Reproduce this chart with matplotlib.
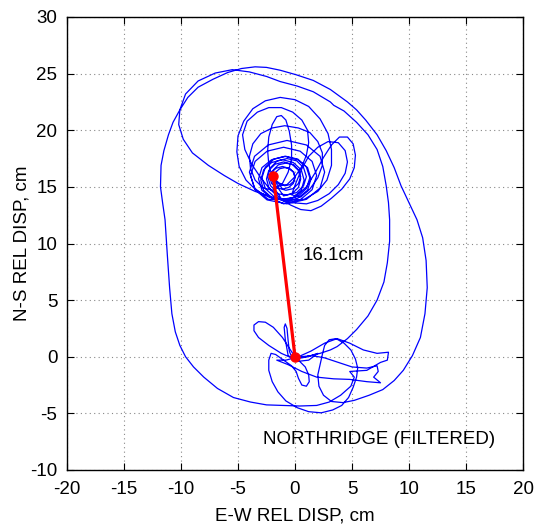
import numpy as np
import matplotlib
matplotlib.use('Agg')
import matplotlib.pyplot as plt

# ---------------- data (E-W, N-S displacement in cm) ----------------
start_cluster = [
    (0.0, 0.0), (-0.4, 0.6), (-1.1, 1.7), (-1.9, 2.6), (-2.6, 3.05), (-3.2, 3.1), (-3.6, 2.8),
    (-3.6, 2.3), (-3.2, 1.7), (-2.3, 1.0), (-1.2, 0.3), (-0.3, -0.1), (0.6, -0.1), (1.4, 0.1),
    (2.0, 0.3), (1.2, -0.3), (0.3, -0.4),
    (-0.6, 0.1), (-0.85, 1.5), (-0.95, 2.6), (-0.85, 2.9), (-0.7, 2.5), (-0.6, 1.4),
    (-0.5, 0.5), (-0.3, 0.0),
    (0.4, -0.4), (0.9, -0.9), (1.2, -1.6), (1.25, -2.2), (1.0, -2.6), (0.6, -2.5), (0.3, -1.9),
    (0.1, -1.3), (-0.3, -0.8), (-1.0, -0.3), (-1.7, 0.2), (-2.1, 0.3),
    (-2.3, -0.3), (-2.3, -1.2), (-2.0, -2.2), (-1.5, -3.1), (-0.8, -3.9), (0.2, -4.5),
    (1.2, -4.85), (2.3, -4.95), (3.3, -4.7), (4.1, -4.3), (4.7, -3.6), (5.1, -2.7), (5.4, -1.8),
    (5.5, -1.0), (5.3, -0.2), (4.9, 0.6), (4.3, 1.2), (3.6, 1.6), (3.0, 1.5), (2.6, 1.0),
    (2.4, 0.2), (2.2, -0.7),
    (2.0, -1.6), (2.1, -2.6), (2.5, -3.4), (3.2, -3.95), (4.2, -4.05),
]

outer_loop = [
    (5.2, -3.85), (6.5, -3.4), (7.7, -2.9), (8.7, -2.1), (9.5, -1.2), (10.3, 0.1), (11.0, 1.7),
    (11.4, 3.8), (11.6, 6.1), (11.5, 8.5), (11.2, 10.5), (10.7, 12.1), (10.0, 13.6), (9.3, 15.1),
    (8.7, 16.7), (8.0, 18.2), (7.2, 19.6), (6.2, 20.9), (5.4, 21.8), (4.6, 22.5), (3.1, 23.6),
    (1.6, 24.4), (0.1, 24.9), (-1.3, 25.3), (-2.5, 25.55), (-3.5, 25.6), (-4.7, 25.45),
    (-5.9, 25.1), (-7.2, 24.5), (-8.5, 23.8), (-9.4, 22.9), (-10.1, 21.8), (-10.7, 20.7),
    (-11.1, 19.6), (-11.5, 18.2), (-11.75, 16.9), (-11.8, 15.0), (-11.6, 13.5), (-11.4, 12.1),
    (-11.2, 9.0), (-11.0, 6.1), (-10.8, 3.8), (-10.5, 2.2), (-10.1, 1.0), (-9.6, 0.0),
    (-8.9, -0.9), (-8.0, -1.8), (-6.8, -2.8), (-5.4, -3.6), (-3.9, -4.0), (-2.5, -4.25),
    (-1.1, -4.3), (0.4, -4.35), (1.9, -4.3), (3.0, -4.0), (4.0, -3.4), (4.9, -2.6),
    (5.2, -1.8), (4.8, -1.3),
]

wing_cluster = [
    (6.3, -1.2), (7.5, -0.5), (8.1, -0.3), (8.2, 0.4), (7.2, 0.3), (6.0, 0.6), (4.8, 1.2),
    (3.7, 1.6), (2.6, 1.2), (1.4, 0.5), (0.3, 0.0), (-0.8, -0.3), (-1.6, -0.3),
    (-0.6, -0.7), (0.6, -1.3), (1.9, -1.8), (3.4, -1.95), (4.8, -2.0), (6.3, -2.2), (7.5, -2.3),
    (6.9, -1.8), (7.3, -1.3), (7.2, -0.8), (6.3, -1.0), (5.0, -0.9), (3.8, -0.5), (2.6, -0.1),
    (1.5, 0.1), (0.5, 0.0), (0.2, -0.1),
    (1.0, 0.0), (2.2, 0.3), (3.1, 0.6), (3.7, 0.9),
]

inner_loop = [
    (4.6, 1.6), (5.4, 2.4), (6.4, 3.6), (7.2, 5.0), (7.8, 6.6), (8.1, 8.3), (8.3, 10.2),
    (8.3, 12.1), (8.2, 13.6), (8.0, 15.1), (7.7, 16.8), (7.2, 18.3), (6.4, 19.6), (5.4, 20.7),
    (4.3, 21.7), (3.4, 22.2), (3.1, 22.5), (2.6, 22.8), (1.6, 23.4), (0.2, 23.9), (-1.3, 24.3),
    (-2.5, 24.75), (-4.0, 25.15), (-5.5, 25.35), (-7.0, 25.05), (-8.5, 24.35), (-9.6, 23.2),
    (-10.1, 21.8), (-10.2, 20.5), (-9.8, 19.2), (-9.0, 18.0), (-7.6, 16.9), (-6.2, 16.0),
    (-5.0, 15.3), (-3.5, 14.6), (-2.0, 14.1), (-0.8, 13.8),
]

center_loops = [
    # large loop around the final position
    (0.8, 13.9), (2.0, 14.6), (2.8, 15.6), (3.2, 16.9), (3.2, 18.3), (2.9, 19.7), (2.2, 21.0),
    (1.2, 22.1), (0.0, 22.7), (-1.3, 22.9), (-2.6, 22.6), (-3.7, 21.9), (-4.5, 20.8),
    (-5.0, 19.5), (-5.1, 18.1), (-4.9, 16.8), (-4.3, 15.6), (-3.4, 14.7), (-2.3, 14.1),
    (-1.1, 13.9), (0.0, 14.1),
    # right petal
    (1.0, 15.0), (1.8, 16.3), (2.5, 17.6), (3.2, 18.7), (3.9, 19.4), (4.6, 19.4), (5.1, 18.8),
    (5.3, 17.8), (5.2, 16.7), (4.8, 15.7), (4.1, 14.8), (3.2, 14.0), (2.3, 13.3), (1.4, 12.9),
    (0.5, 13.0), (-0.4, 13.4), (-1.3, 14.0), (-2.2, 14.8),
    # upper-left loop
    (-3.0, 15.8), (-3.8, 17.0), (-4.4, 18.3), (-4.6, 19.6), (-4.2, 20.8), (-3.3, 21.6),
    (-2.3, 22.0), (-1.2, 22.0), (-0.2, 21.6), (0.6, 20.9), (1.1, 20.0), (1.2, 18.9),
    (1.0, 17.8), (0.6, 16.8), (0.0, 15.9), (-0.7, 15.2),
    # narrow upward loop
    (-1.5, 15.1), (-2.0, 15.9), (-2.3, 17.0), (-2.4, 18.2), (-2.3, 19.4), (-2.0, 20.5),
    (-1.6, 21.2), (-1.2, 21.3), (-0.8, 20.9), (-0.5, 19.9), (-0.3, 18.7), (-0.3, 17.5),
    (-0.6, 16.3), (-1.1, 15.3),
    # loop reaching about 20
    (-1.9, 14.7), (-2.8, 14.9), (-3.5, 15.6), (-3.9, 16.6), (-4.0, 17.7), (-3.7, 18.8),
    (-3.0, 19.7), (-2.0, 20.2), (-0.9, 20.4), (0.3, 20.2), (1.3, 19.8), (2.0, 19.0),
    (2.4, 18.0), (2.4, 16.9), (2.0, 15.8), (1.3, 14.8), (0.5, 14.1),
    # second right loop
    (-0.3, 14.3), (0.1, 15.4), (0.6, 16.6), (1.2, 17.7), (2.0, 18.5), (2.9, 19.0), (3.8, 18.9),
    (4.4, 18.2), (4.6, 17.2), (4.4, 16.2), (3.8, 15.2), (3.0, 14.4), (2.0, 13.8), (1.0, 13.5),
    (-0.2, 13.6), (-1.4, 13.9),
    # medium loops
    (-2.35, 13.9), (-3.55, 14.9), (-4.0, 16.3), (-3.55, 17.7), (-2.35, 18.7), (-0.7, 19.1),
    (1.0, 18.7), (2.2, 17.7), (2.6, 16.3), (2.2, 14.9), (1.0, 13.9), (-0.7, 13.5),
    (-2.45, 13.85), (-3.5, 14.75), (-3.9, 16.0), (-3.5, 17.25), (-2.45, 18.15), (-1.0, 18.5),
    (0.45, 18.15), (1.5, 17.25), (1.9, 16.0), (1.5, 14.75), (0.45, 13.85), (-1.0, 13.5),
]

core_loops = [
    (-2.05, 14.0), (-2.9, 14.7), (-3.2, 15.7), (-2.9, 16.7), (-2.05, 17.4), (-0.9, 17.7),
    (0.25, 17.4), (1.1, 16.7), (1.4, 15.7), (1.1, 14.7), (0.25, 14.0), (-0.9, 13.7),
    (-1.85, 14.15), (-2.6, 14.85), (-2.9, 15.8), (-2.6, 16.75), (-1.85, 17.45), (-0.8, 17.7),
    (0.25, 17.45), (1.0, 16.75), (1.3, 15.8), (1.0, 14.85), (0.25, 14.15), (-0.8, 13.9),
    (-2.05, 14.05), (-2.75, 14.7), (-3.0, 15.6), (-2.75, 16.5), (-2.05, 17.15), (-1.1, 17.4),
    (-0.15, 17.15), (0.55, 16.5), (0.8, 15.6), (0.55, 14.7), (-0.15, 14.05), (-1.1, 13.8),
    (-1.55, 14.5), (-2.15, 15.1), (-2.4, 15.9), (-2.15, 16.7), (-1.55, 17.3), (-0.7, 17.5),
    (0.15, 17.3), (0.75, 16.7), (1.0, 15.9), (0.75, 15.1), (0.15, 14.5), (-0.7, 14.3),
    (-1.75, 14.4), (-2.3, 14.95), (-2.5, 15.7), (-2.3, 16.45), (-1.75, 17.0), (-1.0, 17.2),
    (-0.25, 17.0), (0.3, 16.45), (0.5, 15.7), (0.3, 14.95), (-0.25, 14.4), (-1.0, 14.2),
    (-1.45, 14.85), (-1.9, 15.3), (-2.1, 15.9), (-1.9, 16.5), (-1.45, 16.95), (-0.8, 17.1),
    (-0.15, 16.95), (0.3, 16.5), (0.5, 15.9), (0.3, 15.3), (-0.15, 14.85), (-0.8, 14.7),
    (-1.65, 14.95), (-2.05, 15.3), (-2.2, 15.8), (-2.05, 16.3), (-1.65, 16.65), (-1.1, 16.8),
    (-0.55, 16.65), (-0.15, 16.3), (0.0, 15.8), (-0.15, 15.3), (-0.55, 14.95), (-1.1, 14.8),
    (-1.35, 15.2), (-1.7, 15.5), (-1.8, 15.9), (-1.7, 16.3), (-1.35, 16.6), (-0.9, 16.7),
    (-0.45, 16.6), (-0.1, 16.3), (0.0, 15.9), (-0.1, 15.5), (-0.45, 15.2), (-0.9, 15.1),
    (-1.4, 15.35), (-1.7, 15.6), (-1.8, 15.9), (-1.9, 16.0),
]

# permanent offset vector (start -> end)
offset_ew = [0.0, -1.9]
offset_ns = [0.0, 16.0]
offset_label = '16.1cm'
title_label = 'NORTHRIDGE (FILTERED)'

x_ticks = [-20, -15, -10, -5, 0, 5, 10, 15, 20]
y_ticks = [-10, -5, 0, 5, 10, 15, 20, 25, 30]

# ---------------- plot ----------------
plt.rcParams['font.family'] = ['Liberation Sans', 'DejaVu Sans']
plt.rcParams['axes.unicode_minus'] = False
FS = 13.5

fig = plt.figure(figsize=(5.34, 5.28), dpi=100)
ax = fig.add_axes([67 / 534, 1 - 470 / 528, 456 / 534, 453 / 528])

segments = [start_cluster, outer_loop, wing_cluster, inner_loop, center_loops, core_loops]
path = np.array([p for seg in segments for p in seg])
ax.plot(path[:, 0], path[:, 1], color='#0000ff', lw=0.9, zorder=3,
        solid_joinstyle='round')

ax.plot(offset_ew, offset_ns, color='#ff0000', lw=2.3, marker='o', ms=6.5,
        solid_capstyle='round', zorder=5)

ax.text(0.7, 8.9, offset_label, fontsize=FS, va='center', ha='left')
ax.text(-2.8, -7.35, title_label, fontsize=FS, va='center', ha='left')

ax.set_xlim(-20, 20)
ax.set_ylim(-10, 30)
ax.set_xticks(x_ticks)
ax.set_yticks(y_ticks)
ax.grid(True, linestyle=(0, (1, 3)), color='#888888', lw=0.8)
ax.set_axisbelow(True)
ax.tick_params(direction='in', top=True, right=True, length=5, width=0.8,
               labelsize=FS)
ax.tick_params(axis='x', pad=8)
ax.tick_params(axis='y', pad=7)
for s in ax.spines.values():
    s.set_linewidth(1.0)
ax.set_xlabel('E-W REL DISP, cm', fontsize=FS, labelpad=7)
ax.set_ylabel('N-S REL DISP, cm', fontsize=FS, labelpad=0)

fig.savefig('out.png', dpi=100)
